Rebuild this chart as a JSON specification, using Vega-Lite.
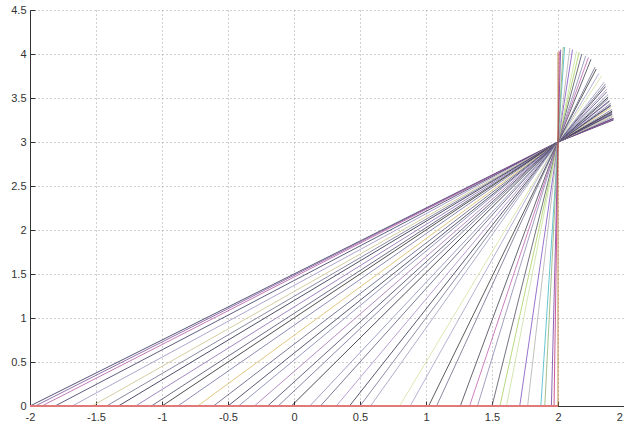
{
  "$schema": "https://vega.github.io/schema/vega-lite/v6.json",
  "autosize": "none",
  "width": 594,
  "height": 396,
  "padding": {"left": 30, "top": 10, "right": 0, "bottom": 18},
  "background": "white",
  "config": {
    "view": {"stroke": null},
    "axis": {
      "grid": true,
      "gridColor": "#8c8c8c",
      "gridDash": [1, 3],
      "gridWidth": 1,
      "gridOpacity": 0.8,
      "domainColor": "#333333",
      "domainWidth": 1,
      "tickColor": "#333333",
      "tickSize": -5,
      "labelFlush": false,
      "labelOverlap": false,
      "labelFont": "Liberation Sans",
      "labelFontSize": 11,
      "labelColor": "#333333",
      "title": null
    }
  },
  "data": {
    "values": [
      {"id": "r01", "x0": -2.0, "y0": 0, "fx": 2, "fy": 3, "xt": 2.42, "yt": 3.25},
      {"id": "r02", "x0": -1.96, "y0": 0, "fx": 2, "fy": 3, "xt": 2.42, "yt": 3.26},
      {"id": "r03", "x0": -1.91, "y0": 0, "fx": 2, "fy": 3, "xt": 2.42, "yt": 3.26},
      {"id": "r04", "x0": -1.81, "y0": 0, "fx": 2, "fy": 3, "xt": 2.42, "yt": 3.27},
      {"id": "r05", "x0": -1.68, "y0": 0, "fx": 2, "fy": 3, "xt": 2.41, "yt": 3.28},
      {"id": "r06", "x0": -1.53, "y0": 0, "fx": 2, "fy": 3, "xt": 2.42, "yt": 3.3},
      {"id": "r07", "x0": -1.42, "y0": 0, "fx": 2, "fy": 3, "xt": 2.41, "yt": 3.31},
      {"id": "r08", "x0": -1.33, "y0": 0, "fx": 2, "fy": 3, "xt": 2.41, "yt": 3.32},
      {"id": "r09", "x0": -1.2, "y0": 0, "fx": 2, "fy": 3, "xt": 2.41, "yt": 3.33},
      {"id": "r10", "x0": -1.08, "y0": 0, "fx": 2, "fy": 3, "xt": 2.41, "yt": 3.34},
      {"id": "r11", "x0": -1.0, "y0": 0, "fx": 2, "fy": 3, "xt": 2.41, "yt": 3.35},
      {"id": "r12", "x0": -0.88, "y0": 0, "fx": 2, "fy": 3, "xt": 2.41, "yt": 3.37},
      {"id": "r13", "x0": -0.73, "y0": 0, "fx": 2, "fy": 3, "xt": 2.4, "yt": 3.39},
      {"id": "r14", "x0": -0.61, "y0": 0, "fx": 2, "fy": 3, "xt": 2.4, "yt": 3.41},
      {"id": "r15", "x0": -0.5, "y0": 0, "fx": 2, "fy": 3, "xt": 2.4, "yt": 3.42},
      {"id": "r16", "x0": -0.42, "y0": 0, "fx": 2, "fy": 3, "xt": 2.4, "yt": 3.44},
      {"id": "r17", "x0": -0.3, "y0": 0, "fx": 2, "fy": 3, "xt": 2.39, "yt": 3.46},
      {"id": "r18", "x0": -0.2, "y0": 0, "fx": 2, "fy": 3, "xt": 2.39, "yt": 3.47},
      {"id": "r19", "x0": -0.12, "y0": 0, "fx": 2, "fy": 3, "xt": 2.38, "yt": 3.49},
      {"id": "r20", "x0": -0.02, "y0": 0, "fx": 2, "fy": 3, "xt": 2.38, "yt": 3.51},
      {"id": "r21", "x0": 0.12, "y0": 0, "fx": 2, "fy": 3, "xt": 2.38, "yt": 3.54},
      {"id": "r22", "x0": 0.2, "y0": 0, "fx": 2, "fy": 3, "xt": 2.37, "yt": 3.57},
      {"id": "r23", "x0": 0.32, "y0": 0, "fx": 2, "fy": 3, "xt": 2.37, "yt": 3.6},
      {"id": "r24", "x0": 0.42, "y0": 0, "fx": 2, "fy": 3, "xt": 2.36, "yt": 3.63},
      {"id": "r25", "x0": 0.5, "y0": 0, "fx": 2, "fy": 3, "xt": 2.36, "yt": 3.66},
      {"id": "r26", "x0": 0.58, "y0": 0, "fx": 2, "fy": 3, "xt": 2.35, "yt": 3.68},
      {"id": "r27", "x0": 0.8, "y0": 0, "fx": 2, "fy": 3, "xt": 2.33, "yt": 3.75},
      {"id": "r28", "x0": 0.88, "y0": 0, "fx": 2, "fy": 3, "xt": 2.31, "yt": 3.78},
      {"id": "r29", "x0": 1.02, "y0": 0, "fx": 2, "fy": 3, "xt": 2.29, "yt": 3.83},
      {"id": "r30", "x0": 1.08, "y0": 0, "fx": 2, "fy": 3, "xt": 2.28, "yt": 3.85},
      {"id": "r31", "x0": 1.26, "y0": 0, "fx": 2, "fy": 3, "xt": 2.25, "yt": 3.94},
      {"id": "r32", "x0": 1.33, "y0": 0, "fx": 2, "fy": 3, "xt": 2.23, "yt": 3.96},
      {"id": "r33", "x0": 1.39, "y0": 0, "fx": 2, "fy": 3, "xt": 2.21, "yt": 3.98},
      {"id": "r34", "x0": 1.5, "y0": 0, "fx": 2, "fy": 3, "xt": 2.18, "yt": 4.0},
      {"id": "r35", "x0": 1.56, "y0": 0, "fx": 2, "fy": 3, "xt": 2.16, "yt": 4.02},
      {"id": "r36", "x0": 1.61, "y0": 0, "fx": 2, "fy": 3, "xt": 2.14, "yt": 4.03},
      {"id": "r37", "x0": 1.71, "y0": 0, "fx": 2, "fy": 3, "xt": 2.11, "yt": 4.05},
      {"id": "r38", "x0": 1.77, "y0": 0, "fx": 2, "fy": 3, "xt": 2.09, "yt": 4.07},
      {"id": "r39", "x0": 1.87, "y0": 0, "fx": 2, "fy": 3, "xt": 2.05, "yt": 4.08},
      {"id": "r40", "x0": 1.9, "y0": 0, "fx": 2, "fy": 3, "xt": 2.04, "yt": 4.08},
      {"id": "r41", "x0": 1.95, "y0": 0, "fx": 2, "fy": 3, "xt": 2.02, "yt": 4.05},
      {"id": "r42", "x0": 1.97, "y0": 0, "fx": 2, "fy": 3, "xt": 2.01, "yt": 4.03},
      {"id": "r43", "x0": 2.0, "y0": 0, "fx": 2, "fy": 3, "xt": 2.0, "yt": 4.02}
    ]
  },
  "encoding": {
    "color": {
      "field": "id", "type": "nominal", "legend": null,
      "scale": {"range": [
        "#2b2b55", "#7a4f9a", "#b45aa0", "#35355f", "#9a8fc0", "#c9c08a", "#6c6c8c", "#222244", "#8a6ab0", "#4a4a6a",
        "#222222", "#7070a0", "#d8b860", "#5a5a80", "#303050", "#8080b0", "#a070b0", "#404060", "#6a6a90", "#202030",
        "#8a8ab8", "#5a5a7a", "#a888c8", "#303048", "#707090", "#9a9ac0", "#d8e0a0", "#a0a0c8", "#333333", "#6a6a8a",
        "#404050", "#c060b0", "#8a8ab0", "#505060", "#a8d060", "#c8e0a0", "#8050c0", "#b0b0b0", "#40b8c8", "#90b070",
        "#7040a0", "#c03080", "#b07020"
      ]}
    }
  },
  "layer": [
    {
      "mark": {"type": "rule", "strokeWidth": 1, "opacity": 0.8},
      "encoding": {
        "x": {
          "field": "x0", "type": "quantitative",
          "scale": {"domain": [-2, 2.5], "nice": false, "zero": false},
          "axis": {
            "values": [-2, -1.5, -1, -0.5, 0, 0.5, 1, 1.5, 2, 2.5],
            "labelExpr": "replace(format(datum.value, '~g'), '\u2212', '-')",
            "labelPadding": 10
          }
        },
        "y": {
          "field": "y0", "type": "quantitative",
          "scale": {"domain": [0, 4.5], "nice": false, "zero": false},
          "axis": {
            "values": [0, 0.5, 1, 1.5, 2, 2.5, 3, 3.5, 4, 4.5],
            "labelExpr": "format(datum.value, '~g')",
            "labelPadding": 9
          }
        },
        "x2": {"field": "fx"},
        "y2": {"field": "fy"}
      }
    },
    {
      "mark": {"type": "rule", "strokeWidth": 1, "opacity": 0.8},
      "encoding": {
        "x": {"field": "fx", "type": "quantitative"},
        "y": {"field": "fy", "type": "quantitative"},
        "x2": {"field": "xt"},
        "y2": {"field": "yt"}
      }
    },
    {
      "data": {"values": [{"xa": -2, "xb": 2, "yv": 0}]},
      "mark": {"type": "rule", "strokeWidth": 2},
      "encoding": {
        "x": {"field": "xa", "type": "quantitative"},
        "x2": {"field": "xb"},
        "y": {"field": "yv", "type": "quantitative"},
        "color": {"value": "#e07a7a"}
      }
    }
  ]
}
